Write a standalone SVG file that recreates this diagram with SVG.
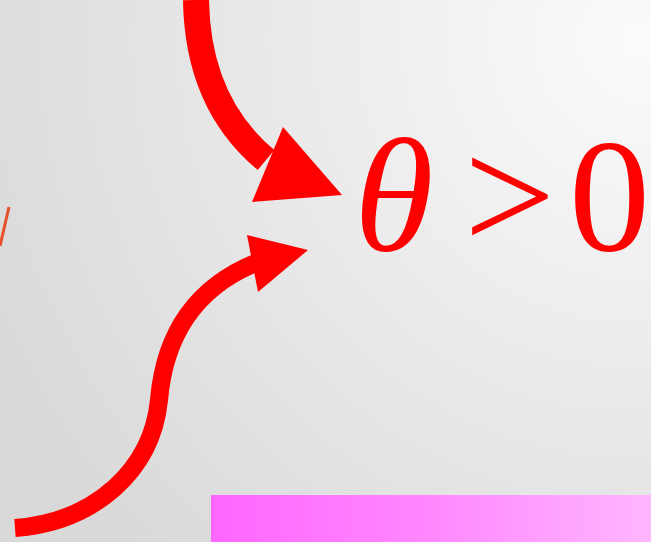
<svg xmlns="http://www.w3.org/2000/svg" width="651" height="542" viewBox="0 0 651 542">
<defs>
<radialGradient id="bg" cx="640" cy="40" r="720" gradientUnits="userSpaceOnUse">
<stop offset="0" stop-color="#fbfbfb"/>
<stop offset="0.55" stop-color="#e8e8e8"/>
<stop offset="1" stop-color="#d9d9d9"/>
</radialGradient>
<linearGradient id="pink" x1="0" y1="0" x2="1" y2="0">
<stop offset="0" stop-color="#ff66ff"/>
<stop offset="0.5" stop-color="#ff88ff"/>
<stop offset="1" stop-color="#ffb6ff"/>
</linearGradient>
<style>
.shaft{fill:none;stroke:#ff0000;stroke-linecap:butt}
.head{fill:#ff0000}
.math{font-family:"Liberation Serif","Times New Roman",serif;font-size:162px;fill:#ff0000}
</style>
</defs>
<rect width="651" height="542" fill="url(#bg)"/>
<line x1="9" y1="207" x2="0" y2="246" stroke="#e8502a" stroke-width="3"/>
<g id="connectors">
<g id="arrow-top">
<path class="shaft" stroke-width="26" d="M196,0 C197,65 218,120 266,160"/>
<polygon class="head" points="283,127 342,195 252,202"/>
</g>
<g id="arrow-bottom">
<path class="shaft" stroke-width="18" d="M15,528 C95,522 152,470 159,400 C165,330 200,285 258,262"/>
<polygon class="head" points="247,235 308,250 258,292"/>
</g>
</g>
<g id="label">
<text class="math" x="354" y="250" font-style="italic">θ</text>
<text class="math" x="464" y="250">&gt;</text>
<text class="math" x="569" y="250">0</text>
</g>
<rect id="bar" x="211" y="495" width="440" height="47" fill="url(#pink)"/>
</svg>
